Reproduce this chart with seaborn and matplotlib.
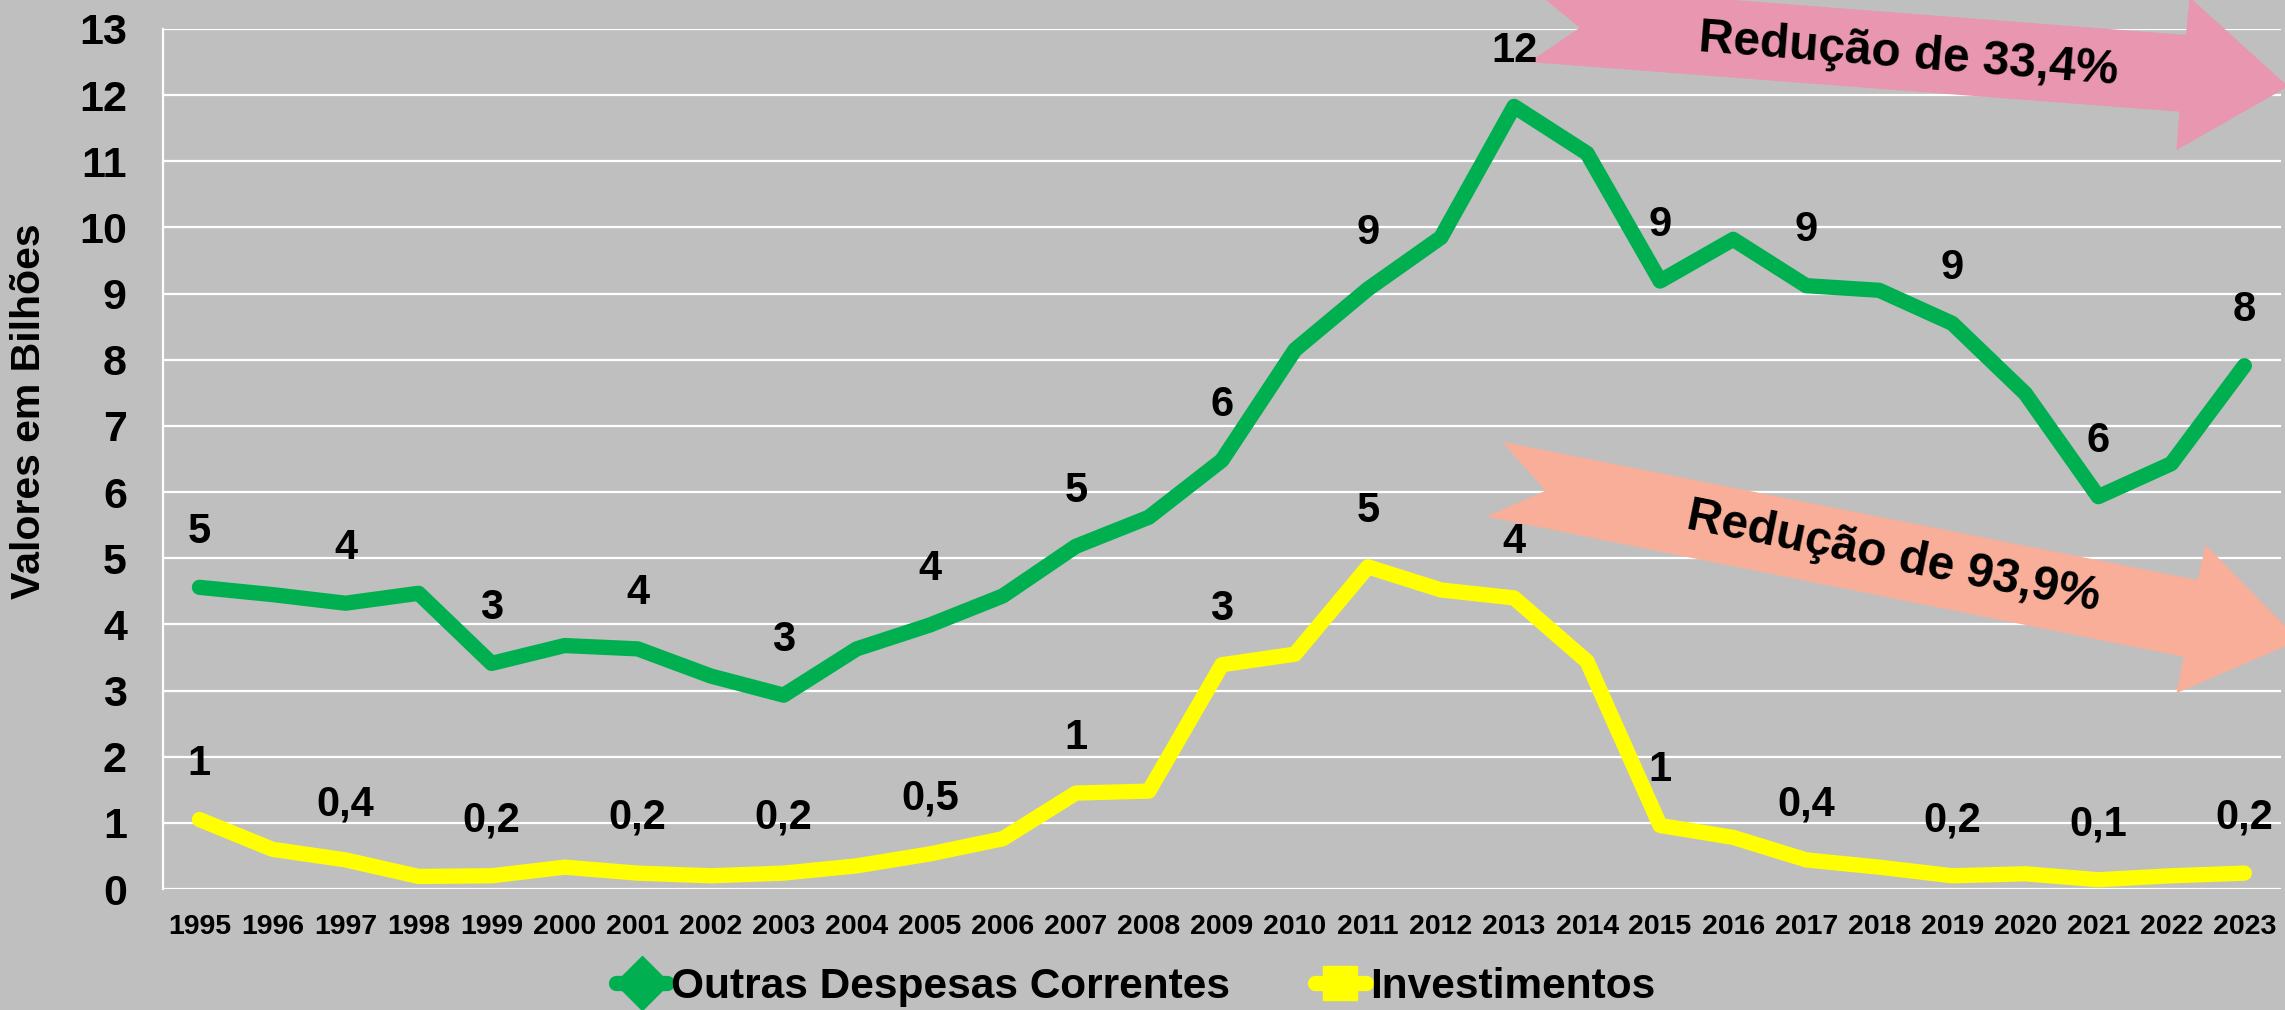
import matplotlib
matplotlib.use("Agg")
import matplotlib.pyplot as plt
from matplotlib.patches import Polygon
from matplotlib.lines import Line2D
import seaborn as sns
import pandas as pd

# dados (bilhões)
anos = list(range(1995, 2024))
outras_despesas = [4.56, 4.45, 4.32, 4.47, 3.41, 3.68, 3.63, 3.22, 2.93, 3.63,
                   3.99, 4.43, 5.18, 5.62, 6.48, 8.15, 9.07, 9.85, 11.83, 11.12,
                   9.19, 9.82, 9.12, 9.05, 8.55, 7.49, 5.93, 6.43, 7.91]
investimentos = [1.05, 0.60, 0.44, 0.19, 0.20, 0.33, 0.24, 0.20, 0.24, 0.35,
                 0.53, 0.76, 1.45, 1.48, 3.39, 3.55, 4.87, 4.52, 4.40, 3.44,
                 0.96, 0.78, 0.44, 0.33, 0.20, 0.23, 0.14, 0.20, 0.24]
series = ["Outras Despesas Correntes", "Investimentos"]
cores = {"Outras Despesas Correntes": "#00B050", "Investimentos": "#FFFF00"}
marcadores = {"Outras Despesas Correntes": "D", "Investimentos": "s"}
anos_rotulo = anos[::2]
textos_seta = ["Redução de 33,4%", "Redução de 93,9%"]

df = pd.DataFrame({
    "ano": anos * 2,
    "valor": outras_despesas + investimentos,
    "serie": [series[0]] * len(anos) + [series[1]] * len(anos),
})


def rotulo(v):
    if v >= 0.95:
        return f"{v:.0f}"
    return f"{v:.1f}".replace(".", ",")


sns.set_style("white")
plt.rcParams["font.family"] = ["Liberation Sans", "DejaVu Sans"]
plt.rcParams["font.weight"] = "bold"
plt.rcParams["text.color"] = "black"
plt.rcParams["axes.labelcolor"] = "black"
plt.rcParams["xtick.color"] = "black"
plt.rcParams["ytick.color"] = "black"

fig = plt.figure(figsize=(22.85, 10.1), dpi=100, facecolor="#BFBFBF")
ax = fig.add_axes([0.0713, 0.1198, 0.9269, 0.8515])
ax.set_facecolor("#BFBFBF")

sns.lineplot(data=df, x="ano", y="valor", hue="serie", palette=cores,
             linewidth=11, legend=False, ax=ax, zorder=3,
             solid_capstyle="round")

ax.set_xlim(1994.5, 2023.5)
ax.set_ylim(0, 13)
ax.set_yticks(range(0, 14))
ax.set_xticks(anos)
ax.set_xticklabels([str(a) for a in anos], fontsize=20.5, fontweight="bold")
ax.set_yticklabels([str(v) for v in range(0, 14)], fontsize=31, fontweight="bold")
ax.tick_params(axis="x", length=0, pad=18)
ax.tick_params(axis="y", length=0, pad=26)
ax.grid(axis="y", color="white", linewidth=1.6)
ax.grid(axis="x", visible=False)
for lado in ["top", "right", "bottom"]:
    ax.spines[lado].set_visible(False)
ax.spines["left"].set_color("white")
ax.spines["left"].set_linewidth(1.6)
ax.set_xlabel("")
ax.set_ylabel("Valores em Bilhões", fontsize=29.5, fontweight="bold")
ax.yaxis.label.set_verticalalignment("center")
ax.yaxis.set_label_coords(-0.063, 0.556)

# setas de redução
seta_rosa = [(2013.17, 13.68), (2022.2, 12.91), (2022.25, 13.48), (2023.6, 12.13),
             (2022.07, 11.17), (2022.11, 11.75), (2013.21, 12.50), (2013.9, 13.02)]
seta_salmao = [(2012.84, 6.76), (2022.36, 4.67), (2022.47, 5.20), (2023.75, 3.76),
               (2022.07, 2.96), (2022.17, 3.51), (2012.62, 5.63), (2013.43, 6.02)]
ax.add_patch(Polygon(seta_rosa, closed=True, facecolor="#E996B0",
                     edgecolor="none", zorder=2, clip_on=False))
ax.add_patch(Polygon(seta_salmao, closed=True, facecolor="#F9AE9A",
                     edgecolor="none", zorder=2, clip_on=False))
ax.text(2018.4, 12.61, textos_seta[0], fontsize=34.5, fontweight="bold",
        rotation=-4.5, ha="center", va="center", zorder=4,
        rotation_mode="anchor")
ax.text(2018.2, 5.02, textos_seta[1], fontsize=34.5, fontweight="bold",
        rotation=-11.3, ha="center", va="center", zorder=4,
        rotation_mode="anchor")

# rótulos de dados
for nome, vals in zip(series, [outras_despesas, investimentos]):
    for a, v in zip(anos, vals):
        if a in anos_rotulo:
            ax.annotate(rotulo(v), (a, v), xytext=(0, 40),
                        textcoords="offset points", ha="center", va="center",
                        fontsize=30, fontweight="bold", zorder=5,
                        annotation_clip=False)

handles = [Line2D([0], [0], color=cores[s], lw=11, marker=marcadores[s],
                  markersize=28 if s == series[0] else 25,
                  markeredgecolor=cores[s]) for s in series]
fig.legend(handles, series, loc="center", bbox_to_anchor=(0.497, 0.023),
           ncol=2, frameon=False, prop={"size": 30.5, "weight": "bold"},
           handlelength=1.2, handletextpad=0.1, columnspacing=2.0)

fig.savefig("out.png", dpi=100, facecolor=fig.get_facecolor())
